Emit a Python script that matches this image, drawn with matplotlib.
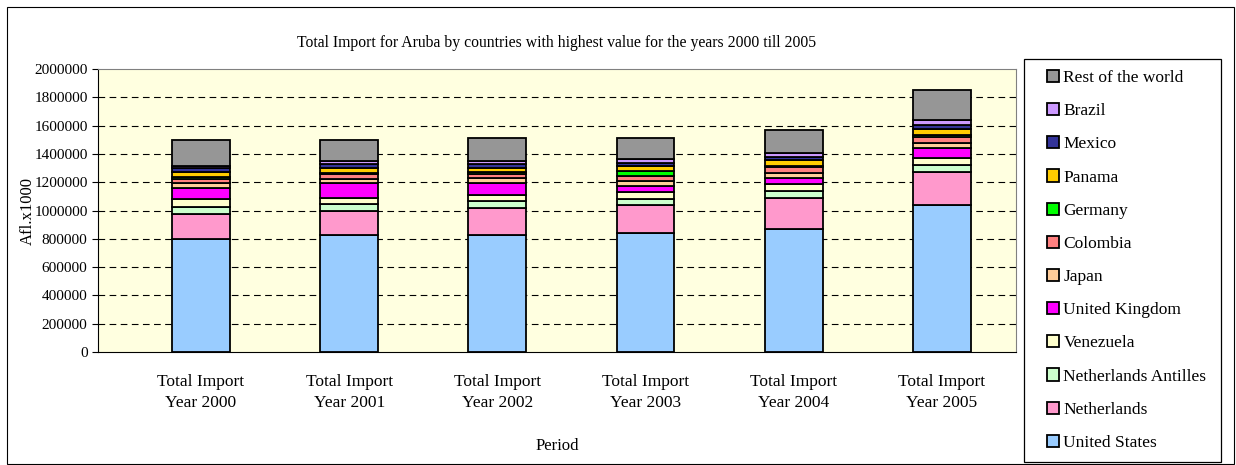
import matplotlib.pyplot as plt
import numpy as np
from matplotlib.patches import Rectangle

years = ["2000", "2001", "2002", "2003", "2004", "2005"]
tick_labels = ["Total Import\nYear " + y for y in years]

countries = ["United States", "Netherlands", "Netherlands Antilles", "Venezuela",
             "United Kingdom", "Japan", "Colombia", "Germany", "Panama", "Mexico",
             "Brazil", "Rest of the world"]

united_states = [800000, 827000, 827000, 839000, 869000, 1037000]
netherlands = [177000, 169000, 193000, 198000, 222000, 237000]
neth_antilles = [50000, 52000, 47000, 44000, 47000, 45000]
venezuela = [52000, 38000, 43000, 47000, 49000, 50000]
united_kingdom = [78000, 106000, 87000, 45000, 45000, 73000]
japan = [40000, 33000, 33000, 35000, 35000, 37000]
colombia = [23000, 31000, 30000, 38000, 38000, 43000]
germany = [14000, 10000, 12000, 35000, 12000, 12000]
panama = [36000, 32000, 28000, 31000, 38000, 40000]
mexico = [32000, 31000, 31000, 24000, 23000, 33000]
brazil = [15000, 21000, 19000, 26000, 26000, 35000]
rest_world = [181000, 150000, 160000, 153000, 167000, 207000]

series = [united_states, netherlands, neth_antilles, venezuela, united_kingdom, japan,
          colombia, germany, panama, mexico, brazil, rest_world]
colors = ["#99CCFF", "#FF99CC", "#CCFFCC", "#FFFFCC", "#FF00FF", "#FFCC99",
          "#FF8080", "#00FF00", "#FFCC00", "#333399", "#CC99FF", "#969696"]

plt.rcParams["font.family"] = ["Liberation Serif", "DejaVu Serif"]

fig = plt.figure(figsize=(12.36, 4.65), dpi=100)
W, H = 1236, 465
ax = fig.add_axes([98 / W, 1 - 352 / H, (1016 - 98) / W, (352 - 69) / H])
ax.set_facecolor("#FFFFE0")

x = np.arange(len(years))
bottom = np.zeros(len(years))
handles = []
for name, vals, c in zip(countries, series, colors):
    b = ax.bar(x, vals, 0.39, bottom=bottom, color=c, edgecolor="black",
               linewidth=1.3, label=name, zorder=3)
    handles.append(b)
    bottom += np.array(vals)

ax.set_ylim(0, 2000000)
ax.set_xlim(-0.695, 5.5)
ax.set_yticks(np.arange(0, 2000001, 200000))
ax.set_yticklabels([str(v) for v in range(0, 2000001, 200000)], fontsize=11)
ax.set_xticks(x)
ax.set_xticklabels(tick_labels, fontsize=12.5, linespacing=1.38)
ax.tick_params(axis="x", length=0, pad=16)
ax.tick_params(axis="y", length=4, direction="out", width=0.8)
for gy in range(200000, 2000000, 200000):
    ax.axhline(gy, color="black", linestyle=(0, (6, 4)), linewidth=0.8, zorder=1)

for s in ["top", "right"]:
    ax.spines[s].set_color("#808080")
for s in ["left", "bottom"]:
    ax.spines[s].set_color("black")

ax.set_ylabel("Afl.x1000", fontsize=12)
ax.yaxis.set_label_coords(-0.068, 0.5)
ax.set_xlabel("Period", fontsize=12)
ax.xaxis.set_label_coords(0.5, -0.305)
ax.set_title("Total Import for Aruba by countries with highest value for the years 2000 till 2005",
             fontsize=11.3, pad=16)

# legend box
fig.patches.append(Rectangle((1024 / W, 1 - 462 / H), 197 / W, 403 / H,
                             transform=fig.transFigure, facecolor="white",
                             edgecolor="black", linewidth=0.9))
fig.legend(handles[::-1], countries[::-1], loc="upper left",
           bbox_to_anchor=(1040 / W, 1 - 63 / H), frameon=False, fontsize=12.5,
           handlelength=0.7, handleheight=0.7, handletextpad=0.25,
           labelspacing=0.98, borderaxespad=0)

# outer chart border
fig.patches.append(Rectangle((7 / W, 1 / H), 1227 / W, 457 / H,
                             transform=fig.transFigure, facecolor="none",
                             edgecolor="black", linewidth=0.8))

fig.savefig("out.png", dpi=100)
